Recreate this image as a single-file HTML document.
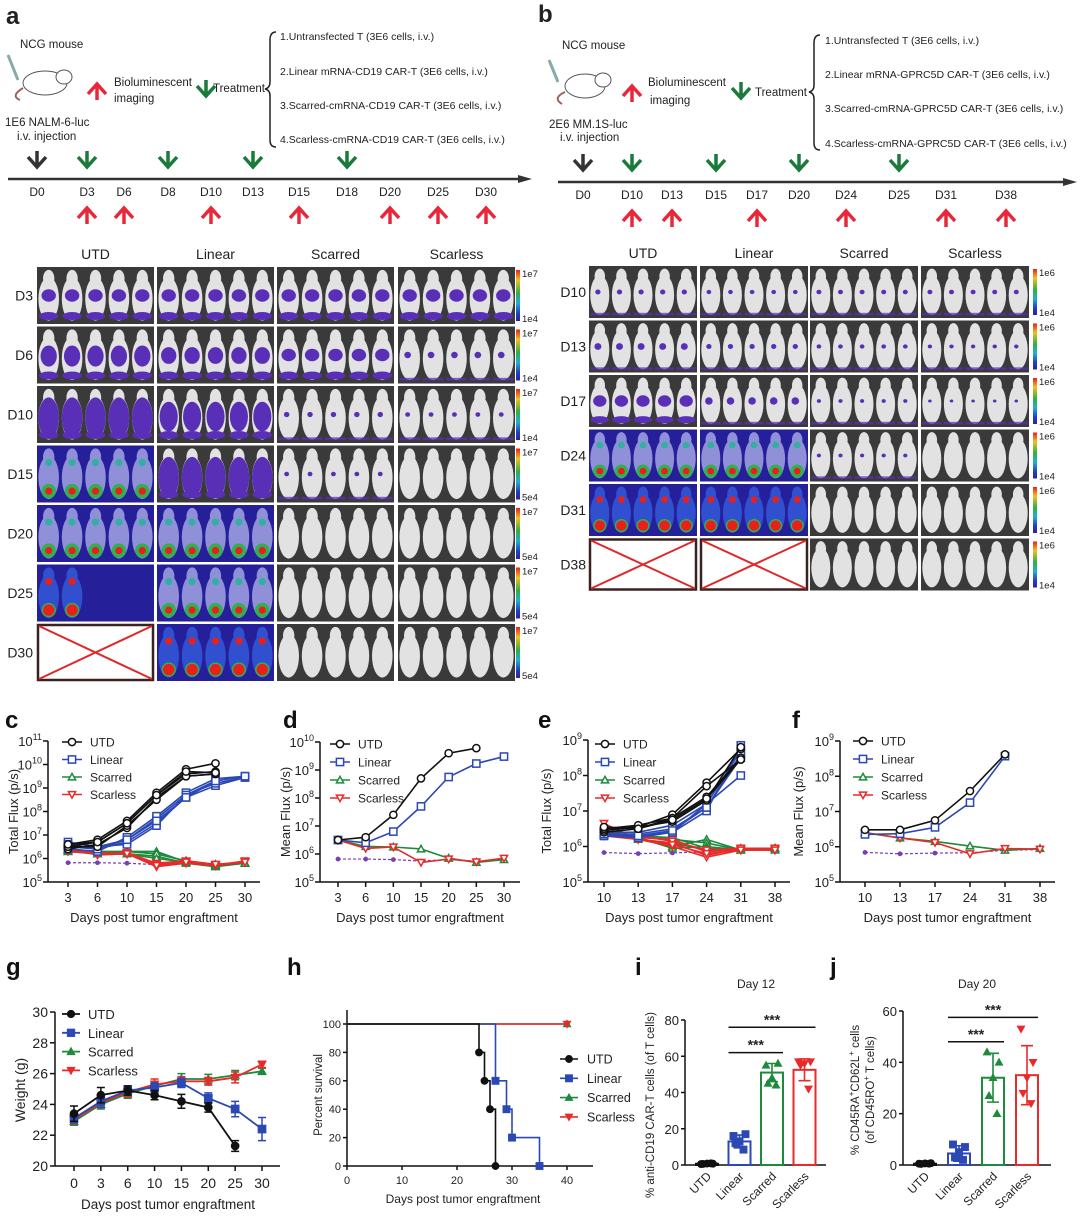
<!DOCTYPE html>
<html><head><meta charset="utf-8"><style>
html,body{margin:0;padding:0;background:#fff;}
svg{display:block;font-family:"Liberation Sans",Arial,sans-serif;}
</style></head><body>
<svg id="fig" width="1080" height="1217" viewBox="0 0 1080 1217" xmlns="http://www.w3.org/2000/svg">
<defs>
<linearGradient id="cbar" x1="0" y1="0" x2="0" y2="1">
<stop offset="0" stop-color="#e8201c"/><stop offset="0.2" stop-color="#f0c020"/><stop offset="0.45" stop-color="#30b040"/><stop offset="0.65" stop-color="#20b0d0"/><stop offset="0.85" stop-color="#2040c0"/><stop offset="1" stop-color="#3020a0"/>
</linearGradient>
</defs>
<g font-size="11.5" fill="#222">
<text x="6" y="24" font-size="24" font-weight="bold">a</text>
<text x="20" y="48">NCG mouse</text>
<g>
<ellipse cx="45" cy="83" rx="22" ry="12" fill="#fff" stroke="#555" stroke-width="1"/>
<ellipse cx="64" cy="77" rx="8" ry="7" fill="#fff" stroke="#555"/>
<path d="M23 88 Q10 96 20 100" stroke="#a06060" stroke-width="2" fill="none"/>
<line x1="8" y1="55" x2="18" y2="80" stroke="#8aa" stroke-width="3"/>
</g>
<text x="5" y="126">1E6 NALM-6-luc</text>
<text x="17" y="140">i.v. injection</text>
<text x="114" y="86">Bioluminescent</text>
<text x="114" y="102">imaging</text>
<text x="213" y="92">Treatment</text>
<path d="M276 32 Q270 32 270 40 L270 82 Q270 88 265 89 Q270 90 270 96 L270 140 Q270 147 276 147" stroke="#222" stroke-width="1.5" fill="none"/>
<g font-size="10.5">
<text x="280" y="40">1.Untransfected T (3E6 cells, i.v.)</text>
<text x="280" y="75">2.Linear mRNA-CD19 CAR-T (3E6 cells, i.v.)</text>
<text x="280" y="109">3.Scarred-cmRNA-CD19 CAR-T (3E6 cells, i.v.)</text>
<text x="280" y="143">4.Scarless-cmRNA-CD19 CAR-T (3E6 cells, i.v.)</text>
</g>
</g>
<g font-size="11.5" fill="#222">
<text x="538" y="22" font-size="24" font-weight="bold">b</text>
<text x="562" y="49">NCG mouse</text>
<g>
<ellipse cx="585" cy="86" rx="20" ry="12" fill="#fff" stroke="#555"/>
<ellipse cx="603" cy="80" rx="8" ry="7" fill="#fff" stroke="#555"/>
<path d="M565 92 Q552 98 562 104" stroke="#a06060" stroke-width="2" fill="none"/>
<line x1="549" y1="60" x2="558" y2="82" stroke="#8aa" stroke-width="3"/>
</g>
<text x="549" y="128">2E6 MM.1S-luc</text>
<text x="560" y="141">i.v. injection</text>
<text x="648" y="86">Bioluminescent</text>
<text x="650" y="104">imaging</text>
<text x="755" y="96">Treatment</text>
<path d="M820 35 Q814 35 814 43 L814 85 Q814 91 809 92 Q814 93 814 99 L814 143 Q814 150 820 150" stroke="#222" stroke-width="1.5" fill="none"/>
<g font-size="10.5">
<text x="825" y="44">1.Untransfected T (3E6 cells, i.v.)</text>
<text x="825" y="78">2.Linear mRNA-GPRC5D CAR-T (3E6 cells, i.v.)</text>
<text x="825" y="112">3.Scarred-cmRNA-GPRC5D CAR-T (3E6 cells, i.v.)</text>
<text x="825" y="147">4.Scarless-cmRNA-GPRC5D CAR-T (3E6 cells, i.v.)</text>
</g>
</g>
<g id="dyn"></g>
</svg>
<script>
// ---------- data ----------
const tlDaysA = ['D0','D3','D6','D8','D10','D13','D15','D18','D20','D25','D30'];
const tlXA = [37,87,124,168,211,253,299,347,390,438,486];
const treatA = ['D3','D8','D13','D18'];
const imagA = ['D3','D6','D10','D15','D20','D25','D30'];
const tlDaysB = ['D0','D10','D13','D15','D17','D20','D24','D25','D31','D38'];
const tlXB = [583,632,672,716,757,799,846,899,946,1006];
const treatB = ['D10','D15','D20','D25'];
const imagB = ['D10','D13','D17','D24','D31','D38'];

const groups = ['UTD','Linear','Scarred','Scarless'];
const rowsA = ['D3','D6','D10','D15','D20','D25','D30'];
const levelsA = [[1,1,1,1],[1.6,1.3,1,0.6],[3,2.2,0.4,0.3],[4,3.2,0.3,0],[4.5,4,0,0],[5,4.6,0,0],['X',5,0,0]];
const cbarLowA = ['1e4','1e4','1e4','5e4','5e4','5e4','5e4'];
const rowsB = ['D10','D13','D17','D24','D31','D38'];
const levelsB = [[0.4,0.3,0.35,0.35],[0.7,0.4,0.3,0.25],[1,0.8,0.2,0.1],[4,4,0.2,0],[5,5,0,0],['X','X',0,0]];

const cDays = ['3','6','10','15','20','25','30'];
const cUTD = [[6.6,6.8,7.6,8.8,9.8,10.05,null],[6.5,6.7,7.5,8.7,9.6,9.7,null],[6.4,6.6,7.3,8.6,9.5,9.6,null],[6.5,6.5,7.4,8.5,9.5,9.6,null],[6.6,6.7,7.5,8.7,9.7,9.65,null]];
const cLin = [[6.7,6.5,6.8,7.7,8.7,9.3,9.5],[6.5,6.4,6.7,7.5,8.6,9.1,9.45],[6.4,6.3,6.9,7.8,8.8,9.4,9.5],[6.5,6.5,6.6,7.4,8.7,9.2,9.45],[6.6,6.4,6.8,7.6,8.6,9.3,9.5]];
const cSca = [[6.4,6.2,6.3,6.3,5.85,5.7,5.8],[6.3,6.2,6.3,6.2,5.9,5.7,5.8],[6.35,6.3,6.2,6.1,5.8,5.65,5.8],[6.4,6.3,6.3,6.2,5.9,5.75,5.8],[6.3,6.2,6.2,6.0,5.85,5.7,5.8]];
const cSle = [[6.4,6.2,6.2,5.7,5.85,5.7,5.85],[6.35,6.2,6.25,5.8,5.9,5.75,5.85],[6.4,6.15,6.2,5.65,5.8,5.7,5.85],[6.3,6.2,6.2,5.75,5.85,5.7,5.9],[6.4,6.25,6.2,5.7,5.85,5.75,5.85]];
const cBg = [5.82,5.82,5.8,5.74,5.8,5.74,5.8];
const dUTD = [6.5,6.6,7.4,8.7,9.6,9.78,null];
const dLin = [6.5,6.4,6.8,7.7,8.75,9.23,9.48];
const dSca = [6.5,6.27,6.25,6.18,5.85,5.7,5.8];
const dSle = [6.5,6.2,6.25,5.7,5.82,5.72,5.85];
const dBg = [5.82,5.82,5.8,5.75,5.8,5.75,5.8];
const eDays = ['10','13','17','24','31','38'];
const eUTD = [[6.5,6.55,6.9,7.8,8.75,null],[6.4,6.5,6.8,7.7,8.45,null],[6.45,6.55,6.7,7.3,8.8,null],[6.5,6.6,6.8,7.4,8.5,null],[6.55,6.5,6.75,7.35,8.45,null]];
const eLin = [[6.3,6.3,6.4,7.0,8.85,null],[6.35,6.35,6.5,7.1,8.5,null],[6.3,6.25,6.4,7.2,8.0,null],[6.4,6.4,6.6,7.2,8.7,null],[6.35,6.3,6.45,7.1,8.6,null]];
const eSca = [[6.4,6.25,6.0,6.2,5.9,5.95],[6.35,6.3,6.2,6.1,5.9,5.95],[6.4,6.25,5.95,6.0,5.9,5.9],[6.4,6.3,6.25,5.95,5.9,5.95],[6.35,6.2,6.1,5.9,5.95,5.9]];
const eSle = [[6.65,6.2,6.1,5.75,5.95,5.95],[6.4,6.25,6.2,5.85,5.95,5.9],[6.35,6.2,6.0,5.7,5.9,5.95],[6.4,6.3,6.15,5.9,5.95,5.95],[6.3,6.2,6.05,5.8,5.9,5.9]];
const eBg = [5.83,5.8,5.82,5.85,5.9,5.9];
const fUTD = [6.48,6.48,6.75,7.58,8.62,null];
const fLin = [6.35,6.37,6.55,7.25,8.57,null];
const fSca = [6.4,6.25,6.15,6.02,5.9,5.95];
const fSle = [6.4,6.25,6.12,5.8,5.95,5.93];
const fBg = [5.84,5.8,5.82,5.83,5.9,5.92];
const gDays = ['0','3','6','10','15','20','25','30'];
const gUTD = [23.4,24.6,24.9,24.6,24.2,23.8,21.3,null];
const gUTDsd = [0.5,0.5,0.3,0.3,0.45,0.3,0.35,0];
const gLin = [23.1,24.2,24.9,25.1,25.4,24.4,23.7,22.4];
const gLinsd = [0.3,0.4,0.3,0.3,0.3,0.35,0.5,0.75];
const gSca = [22.9,24.0,24.7,25.2,25.65,25.65,25.9,26.15];
const gScasd = [0.25,0.3,0.3,0.3,0.35,0.3,0.3,0.2];
const gSle = [23.0,24.1,24.8,25.3,25.5,25.5,25.75,26.6];
const gSlesd = [0.25,0.3,0.3,0.35,0.3,0.25,0.35,0.2];
const hUTDt = [0,24,25,26,27];
const hUTDv = [100,80,60,40,0];
const hLint = [0,27,29,30,35];
const hLinv = [100,60,40,20,0];
const hScat = [0,40];
const hScav = [100,100];
const hSlet = [0,40];
const hSlev = [100,100];
const barCats = ['UTD','Linear','Scarred','Scarless'];
const iMean = [0.7,13,51,52.5];
const iSd = [0.3,3.5,5,6];
const iPts = [[0.5,0.7,0.8,0.6,0.9],[16,17,13,12,8.5],[55,56,48,45,44],[57,57,56,55,42]];
const jMean = [0.5,4.5,34,35];
const jSd = [0.3,3,9.5,11.5];
const jPts = [[0.5,0.7,0.6,0.4,0.5],[8,7,5,3,2],[44,40,34,27,20],[53,40,34,28,24]];

// ---------- helpers ----------
const NS='http://www.w3.org/2000/svg';
const root=document.getElementById('dyn');
function mk(tag,attrs,parent){const e=document.createElementNS(NS,tag);for(const k in attrs)e.setAttribute(k,attrs[k]);(parent||root).appendChild(e);return e;}
function txt(s,x,y,attrs,parent){const t=mk('text',Object.assign({x:x,y:y,fill:'#222'},attrs||{}),parent);t.textContent=s;return t;}
const COL={UTD:'#111',Linear:'#2b48b4',Scarred:'#1d8a3c',Scarless:'#ea2a2a',bg:'#7b3db5'};

function arrowDown(x,y,color,parent){return mk('path',{d:`M${x-9} ${y-6} L${x} ${y+4} L${x+9} ${y-6} M${x} ${y+4} L${x} ${y-12}`,stroke:color,'stroke-width':3.5,fill:'none'},parent);}
function arrowUp(x,y,color,parent){return mk('path',{d:`M${x-9} ${y+6} L${x} ${y-4} L${x+9} ${y+6} M${x} ${y-4} L${x} ${y+12}`,stroke:color,'stroke-width':3.5,fill:'none'},parent);}

function timeline(days,xs,treat,imag,y,x0,x1,name){
  const g=mk('g',{});
  
  
  const l=mk('line',{x1:x0,y1:y,x2:x1-8,y2:y,stroke:'#333','stroke-width':2.5},g);
  
  
  mk('path',{d:`M${x1} ${y} L${x1-14} ${y-4} L${x1-14} ${y+4} Z`,fill:'#333'},g);
  days.forEach((d,i)=>{
    const t=txt(d,xs[i],y+17,{'font-size':12,'text-anchor':'middle'},g);
    
    
    if(i===0){const a=arrowDown(xs[i],y-16,'#333',g);}
    if(treat.includes(d)){const a=arrowDown(xs[i],y-16,'#1a7a3a',g);}
    if(imag.includes(d)){const a=arrowUp(xs[i],y+33,'#e8283a',g);}
  });
}
timeline(tlDaysA,tlXA,treatA,imagA,179,8,532,'timeline-a');
timeline(tlDaysB,tlXB,treatB,imagB,182,558,1077,'timeline-b');
arrowUp(97,88,'#e8283a');
arrowDown(206,92,'#1a7a3a');
arrowUp(632,90,'#e8283a');
arrowDown(741,94,'#1a7a3a');

// ---------- imaging grids ----------
function cell(x,y,w,h,level,name,partial){
  const g=mk('g',{});
  
  
  if(level==='X'){
    mk('rect',{x:x+1,y:y+1,width:w-2,height:h-2,fill:'#fff',stroke:'#3a2222','stroke-width':2.5},g);
    mk('path',{d:`M${x+2} ${y+2} L${x+w-2} ${y+h-2} M${x+w-2} ${y+2} L${x+2} ${y+h-2}`,stroke:'#e0282a','stroke-width':2},g);
    return;
  }
  const hot=level>=4;
  mk('rect',{x:x,y:y,width:w,height:h,fill:hot?'#25209a':'#3a3a3a'},g);
  const n=partial||5;
  for(let i=0;i<n;i++){
    const cx=x+w*(i+0.5)/5, rx=w/5*0.44, cy=y+h*0.56, ry=h*0.38;
    const bodyFill = hot?(level>=5?'#3050d0':'#9090d8'):'#e2e2e2';
    mk('ellipse',{cx:cx,cy:y+h*0.2,rx:rx*0.55,ry:h*0.15,fill:bodyFill},g);
    mk('ellipse',{cx:cx,cy:cy,rx:rx,ry:ry,fill:bodyFill},g);
    if(!hot && level>0){
      if(level<1){
        mk('ellipse',{cx:cx-rx*0.2,cy:y+h*0.5,rx:rx*0.3*level+1.5,ry:h*0.06*level+1.2,fill:'#5a2fb8'},g);
        mk('rect',{x:cx-rx,y:y+h*0.9,width:2*rx,height:h*0.05,fill:'#5a2fb8',opacity:0.7},g);
      } else {
        const f=Math.min(1,(level-1)/2);
        mk('ellipse',{cx:cx,cy:y+h*(0.5+0.06*f),rx:rx*(0.7+0.3*f),ry:h*(0.11+0.25*f),fill:'#5a2fb8'},g);
        mk('ellipse',{cx:cx,cy:y+h*0.86,rx:rx*0.95,ry:h*0.07,fill:'#5a2fb8'},g);
      }
    }
    if(hot){
      mk('circle',{cx:cx,cy:y+h*0.8,r:rx*0.7,fill:'#30b050'},g);
      mk('circle',{cx:cx,cy:y+h*0.8,r:rx*(level>=5?0.55:0.35),fill:'#e8201c'},g);
      mk('circle',{cx:cx,cy:y+h*0.3,r:rx*0.35,fill:level>=5?'#e8201c':'#30b0a0'},g);
    }
  }
}
function grid(rows,levels,cols,colW,y0,step,h,labelX,cbX,cbTop,cbLows,prefix,partialCell){
  groups.forEach((gname,ci)=>{
    const t=txt(gname,cols[ci]+colW/2,y0-8,{'font-size':14,'text-anchor':'middle'});
    
    
  });
  rows.forEach((r,ri)=>{
    const y=y0+ri*step;
    const t=txt(r,labelX,y+h/2+5,{'font-size':14,'text-anchor':'end'});
    
    
    groups.forEach((gname,ci)=>{
      const part=(partialCell&&partialCell[0]===ri&&partialCell[1]===ci)?partialCell[2]:0;
      cell(cols[ci],y,colW,h,levels[ri][ci],prefix+'-image-'+r+'-'+gname.toLowerCase(),part);
    });
    const cb=mk('rect',{x:cbX,y:y+3,width:4,height:h-6,fill:'url(#cbar)'});
    
    
    txt(cbTop,cbX+6,y+10,{'font-size':9.5});
    txt(cbLows[ri],cbX+6,y+h-2,{'font-size':9.5});
  });
}
grid(rowsA,levelsA,[37,157,277,398],117,267,59.5,57,33,516,'1e7',cbarLowA,'grid-a',[5,0,2]);
grid(rowsB,levelsB,[589,700,810,921],108,266,54.5,52,586,1033,'1e6',['1e4','1e4','1e4','1e4','1e4','1e4'],'grid-b',null);

function marker(type,x,y,color,filled,size,parent){
  const s=size||4;let e;
  const fill=filled?color:'#fff';
  if(type==='UTD') e=mk('circle',{cx:x,cy:y,r:s,fill:fill,stroke:color,'stroke-width':1.5},parent);
  else if(type==='Linear') e=mk('rect',{x:x-s,y:y-s,width:2*s,height:2*s,fill:fill,stroke:color,'stroke-width':1.5},parent);
  else if(type==='Scarred') e=mk('path',{d:`M${x} ${y-s} L${x+s} ${y+s*0.8} L${x-s} ${y+s*0.8} Z`,fill:fill,stroke:color,'stroke-width':1.5},parent);
  else if(type==='Scarless') e=mk('path',{d:`M${x} ${y+s} L${x+s} ${y-s*0.8} L${x-s} ${y-s*0.8} Z`,fill:fill,stroke:color,'stroke-width':1.5},parent);
  else e=mk('circle',{cx:x,cy:y,r:s*0.8,fill:color},parent);
  return e;
}
function panelLabel(s,x,y){const t=txt(s,x,y,{'font-size':24,'font-weight':'bold','fill':'#111'});}

function logChart(o){
  const g=mk('g',{});
  
  
  const n=o.cats.length;
  const X=i=>o.xa+(o.xb-o.xa)*i/(n-1);
  const Y=v=>o.yb-(v-o.emin)/(o.emax-o.emin)*(o.yb-o.yt);
  const ya=mk('line',{x1:o.ax,y1:o.yt,x2:o.ax,y2:o.yb,stroke:'#111','stroke-width':1.5},g);
  
  
  const xa=mk('line',{x1:o.ax,y1:o.yb,x2:o.xe,y2:o.yb,stroke:'#111','stroke-width':1.5},g);
  
  
  for(let e=o.emin;e<=o.emax;e++){
    mk('line',{x1:o.ax-5,y1:Y(e),x2:o.ax,y2:Y(e),stroke:'#111','stroke-width':1.5},g);
    const t=mk('text',{x:o.ax-6,y:Y(e)+5,'text-anchor':'end','font-size':13,fill:'#222'},g);
    
    
    t.textContent='10';
    const sp=mk('tspan',{dy:-6,'font-size':9},t);sp.textContent=String(e);
  }
  o.cats.forEach((c,i)=>{
    mk('line',{x1:X(i),y1:o.yb,x2:X(i),y2:o.yb+5,stroke:'#111','stroke-width':1.5},g);
    const t=txt(c,X(i),o.yb+20,{'font-size':13,'text-anchor':'middle'},g);
    
    
  });
  const xt=txt('Days post tumor engraftment',(o.ax+o.xe)/2,o.yb+40,{'font-size':13,'text-anchor':'middle'},g);
  
  
  const yc=(o.yt+o.yb)/2;
  const yt=txt(o.ytitle,o.ytx,yc,{'font-size':13,'text-anchor':'middle',transform:`rotate(-90 ${o.ytx} ${yc})`},g);
  
  
  function series(vals,type,color,dashed,filled){
    let d='';let pen=false;
    vals.forEach((v,i)=>{if(v===null){pen=false;return;}d+=(pen?'L':'M')+X(i)+' '+Y(v)+' ';pen=true;});
    const p=mk('path',{d:d,fill:'none',stroke:color,'stroke-width':dashed?1.2:1.6,'stroke-dasharray':dashed?'3 2':'none'},g);
    
    
    vals.forEach((v,i)=>{if(v===null)return;const m=marker(dashed?'dot':type,X(i),Y(v),color,filled,dashed?3:3.6,g);
      
      });
  }
  series(o.bg,'bg',COL.bg,true,true);
  o.order.forEach(k=>{const s=o.series[k];(Array.isArray(s[0])?s:[s]).forEach(v=>series(v,k,COL[k],false,false));});
  if(o.leg){
    ['UTD','Linear','Scarred','Scarless'].forEach((k,i)=>{
      const y=o.leg.y+i*o.leg.dy;
      mk('line',{x1:o.leg.x,y1:y,x2:o.leg.x+20,y2:y,stroke:COL[k],'stroke-width':1.6},g);
      marker(k,o.leg.x+10,y,COL[k],false,3.6,g);
      const t=txt(k,o.leg.x+28,y+4.5,{'font-size':12},g);
      
      
    });
  }
}
panelLabel('c',5,728);panelLabel('d',283,728);panelLabel('e',538,728);panelLabel('f',792,728);
logChart({name:'chart-c-total-flux',cats:cDays,ax:48,xa:68,xb:245,xe:260,yt:741,yb:882,emin:5,emax:11,ytitle:'Total Flux (p/s)',ytx:18,bg:cBg,order:['Scarred','Scarless','Linear','UTD'],series:{UTD:cUTD,Linear:cLin,Scarred:cSca,Scarless:cSle},leg:{x:62,y:742,dy:17.5}});
logChart({name:'chart-d-mean-flux',cats:cDays,ax:320,xa:338,xb:504,xe:520,yt:742,yb:882,emin:5,emax:10,ytitle:'Mean Flux (p/s)',ytx:290,bg:dBg,order:['Scarred','Scarless','Linear','UTD'],series:{UTD:dUTD,Linear:dLin,Scarred:dSca,Scarless:dSle},leg:{x:330,y:744,dy:18}});
logChart({name:'chart-e-total-flux',cats:eDays,ax:588,xa:604,xb:775,xe:790,yt:740,yb:882,emin:5,emax:9,ytitle:'Total Flux (p/s)',ytx:551,bg:eBg,order:['Scarred','Scarless','Linear','UTD'],series:{UTD:eUTD,Linear:eLin,Scarred:eSca,Scarless:eSle},leg:{x:595,y:744,dy:18}});
logChart({name:'chart-f-mean-flux',cats:eDays,ax:840,xa:865,xb:1040,xe:1055,yt:741,yb:882,emin:5,emax:9,ytitle:'Mean Flux (p/s)',ytx:803,bg:fBg,order:['Scarred','Scarless','Linear','UTD'],series:{UTD:fUTD,Linear:fLin,Scarred:fSca,Scarless:fSle},leg:{x:853,y:741,dy:18}});

panelLabel('g',6,975);panelLabel('h',287,975);panelLabel('i',635,975);panelLabel('j',830,975);
(function(){
  const g=mk('g',{});
  
  
  const ax=55,xa=74,xb=262,xe=280,yt=1012,yb=1166,vmin=20,vmax=30;
  const X=i=>xa+(xb-xa)*i/(gDays.length-1);
  const Y=v=>yb-(v-vmin)/(vmax-vmin)*(yb-yt);
  const ya=mk('line',{x1:ax,y1:yt,x2:ax,y2:yb,stroke:'#111','stroke-width':1.5},g);
  
  const xl=mk('line',{x1:ax,y1:yb,x2:xe,y2:yb,stroke:'#111','stroke-width':1.5},g);
  
  for(let v=20;v<=30;v+=2){mk('line',{x1:ax-5,y1:Y(v),x2:ax,y2:Y(v),stroke:'#111','stroke-width':1.5},g);
    const t=txt(String(v),ax-7,Y(v)+5,{'font-size':14,'text-anchor':'end'},g);}
  gDays.forEach((d,i)=>{mk('line',{x1:X(i),y1:yb,x2:X(i),y2:yb+5,stroke:'#111','stroke-width':1.5},g);
    const t=txt(d,X(i),yb+22,{'font-size':14,'text-anchor':'middle'},g);});
  const xt=txt('Days post tumor engraftment',168,1209,{'font-size':13.5,'text-anchor':'middle'},g);
  const yt2=txt('Weight (g)',25,1090,{'font-size':14,'text-anchor':'middle',transform:'rotate(-90 25 1090)'},g);
  const S={UTD:[gUTD,gUTDsd],Linear:[gLin,gLinsd],Scarred:[gSca,gScasd],Scarless:[gSle,gSlesd]};
  ['Scarred','Scarless','Linear','UTD'].forEach(k=>{
    const [v,sd]=S[k];let d='';let pen=false;
    v.forEach((y,i)=>{if(y===null){pen=false;return;}d+=(pen?'L':'M')+X(i)+' '+Y(y)+' ';pen=true;});
    const p=mk('path',{d:d,fill:'none',stroke:COL[k],'stroke-width':1.8},g);
    
    v.forEach((y,i)=>{if(y===null)return;
      mk('path',{d:`M${X(i)} ${Y(y-sd[i])} L${X(i)} ${Y(y+sd[i])} M${X(i)-4} ${Y(y-sd[i])} L${X(i)+4} ${Y(y-sd[i])} M${X(i)-4} ${Y(y+sd[i])} L${X(i)+4} ${Y(y+sd[i])}`,stroke:COL[k],'stroke-width':1.5,fill:'none'},g);
      const m=marker(k,X(i),Y(y),COL[k],true,3.6,g);});
  });
  ['UTD','Linear','Scarred','Scarless'].forEach((k,i)=>{const y=1014+i*18.8;
    mk('line',{x1:62,y1:y,x2:80,y2:y,stroke:COL[k],'stroke-width':1.8},g);marker(k,71,y,COL[k],true,3.4,g);
    const t=txt(k,88,y+5,{'font-size':13},g);});
})();

(function(){
  const g=mk('g',{});
  
  
  const ax=347,yb=1166,ytop=1024;
  const X=t=>ax+t*(567-347)/40;
  const Y=v=>yb-v/100*(yb-ytop);
  const ya=mk('line',{x1:ax,y1:1010,x2:ax,y2:yb,stroke:'#111','stroke-width':1.5},g);
  
  const xl=mk('line',{x1:ax,y1:yb,x2:593,y2:yb,stroke:'#111','stroke-width':1.5},g);
  
  for(let v=0;v<=100;v+=20){mk('line',{x1:ax-4,y1:Y(v),x2:ax,y2:Y(v),stroke:'#111','stroke-width':1.5},g);
    const t=txt(String(v),ax-6,Y(v)+4,{'font-size':11,'text-anchor':'end'},g);}
  for(let v=0;v<=40;v+=10){mk('line',{x1:X(v),y1:yb,x2:X(v),y2:yb+4,stroke:'#111','stroke-width':1.5},g);
    const t=txt(String(v),X(v),yb+18,{'font-size':11,'text-anchor':'middle'},g);}
  const xt=txt('Days post tumor engraftment',463,1203,{'font-size':12,'text-anchor':'middle'},g);
  const yt2=txt('Percent survival',322,1095,{'font-size':11.5,'text-anchor':'middle',transform:'rotate(-90 322 1095)'},g);
  const S={Scarred:[hScat,hScav],Scarless:[hSlet,hSlev],Linear:[hLint,hLinv],UTD:[hUTDt,hUTDv]};
  ['Scarred','Scarless','Linear','UTD'].forEach(k=>{
    const [t,v]=S[k];let d=`M${X(t[0])} ${Y(v[0])}`;
    for(let i=1;i<t.length;i++){d+=` L${X(t[i])} ${Y(v[i-1])} L${X(t[i])} ${Y(v[i])}`;}
    const p=mk('path',{d:d,fill:'none',stroke:COL[k],'stroke-width':1.6},g);
    
    for(let i=1;i<t.length;i++){const m=marker(k,X(t[i]),Y(v[i]),COL[k],true,3.2,g);}
  });
  ['UTD','Linear','Scarred','Scarless'].forEach((k,i)=>{const y=1059+i*19.3;
    mk('line',{x1:560,y1:y,x2:578,y2:y,stroke:COL[k],'stroke-width':1.6},g);marker(k,569,y,COL[k],true,3.2,g);
    const t=txt(k,587,y+4.5,{'font-size':12.5},g);});
})();

function barChart(o){
  const g=mk('g',{});
  
  
  const Y=v=>o.yb-v/o.vmax*(o.yb-o.yt);
  const ya=mk('line',{x1:o.ax,y1:o.yt,x2:o.ax,y2:o.yb,stroke:'#111','stroke-width':1.5},g);
  
  const xl=mk('line',{x1:o.ax,y1:o.yb,x2:o.xe,y2:o.yb,stroke:'#111','stroke-width':1.5},g);
  
  for(let v=0;v<=o.vmax;v+=20){mk('line',{x1:o.ax-4,y1:Y(v),x2:o.ax,y2:Y(v),stroke:'#111','stroke-width':1.5},g);
    const t=txt(String(v),o.ax-6,Y(v)+5,{'font-size':13,'text-anchor':'end'},g);}
  const tt=txt(o.title,o.tx,988,{'font-size':12,'text-anchor':'middle'},g);
  barCats.forEach((c,i)=>{
    const cx=o.cx0+i*o.dx,col=COL[c],m=o.mean[i],s=o.sd[i];
    const r=mk('rect',{x:cx-11,y:Y(m),width:22,height:o.yb-Y(m),fill:'#fff',stroke:col,'stroke-width':2},g);
    
    mk('path',{d:`M${cx} ${Y(m-s)} L${cx} ${Y(m+s)} M${cx-6} ${Y(m+s)} L${cx+6} ${Y(m+s)} M${cx-6} ${Y(m-s)} L${cx+6} ${Y(m-s)}`,stroke:col,'stroke-width':1.6,fill:'none'},g);
    o.pts[i].forEach((v,j)=>{const off=[-6,6,0,-4,4][j];const p=marker(c,cx+off,Y(v),col,true,3.2,g);});
    const t=txt(c,cx+5,o.yb+12,{'font-size':12,'text-anchor':'end',transform:`rotate(-45 ${cx+5} ${o.yb+12})`},g);
    
  });
  o.sig.forEach(s=>{const x1=o.cx0+s[0]*o.dx-11,x2=o.cx0+s[1]*o.dx+11;
    const l=mk('line',{x1:x1,y1:Y(s[2]),x2:x2,y2:Y(s[2]),stroke:'#111','stroke-width':1.5},g);
    
    const t=txt('***',(x1+x2)/2,Y(s[2])-3,{'font-size':14,'font-weight':'bold','text-anchor':'middle'},g);
    });
}
barChart({name:'chart-i-car-t-percent',ax:685,xe:826,yt:1020,yb:1165,vmax:80,cx0:707,dx:32.5,mean:iMean,sd:iSd,pts:iPts,title:'Day 12',tx:756,sig:[[1,2,62],[1,3,76]]});
barChart({name:'chart-j-naive-percent',ax:903,xe:1051,yt:1011,yb:1165,vmax:60,cx0:925,dx:34,mean:jMean,sd:jSd,pts:jPts,title:'Day 20',tx:977,sig:[[1,2,48],[1,3,57.5]]});
(function(){
  const a=txt('% anti-CD19 CAR-T cells (of T cells)',654,1105,{'font-size':11.5,'text-anchor':'middle',transform:'rotate(-90 654 1105)'});
  
  const b=mk('text',{x:859,y:1090,'font-size':11.5,'text-anchor':'middle',fill:'#222',transform:'rotate(-90 859 1090)'});
  
  b.innerHTML='% CD45RA<tspan dy="-5" font-size="8">+</tspan><tspan dy="5">CD62L</tspan><tspan dy="-5" font-size="8">+</tspan><tspan dy="5"> cells</tspan>';
  const c=mk('text',{x:874,y:1090,'font-size':11.5,'text-anchor':'middle',fill:'#222',transform:'rotate(-90 874 1090)'});
  
  c.innerHTML='(of CD45RO<tspan dy="-5" font-size="8">+</tspan><tspan dy="5"> T cells)</tspan>';
})();
</script>
</body></html>
